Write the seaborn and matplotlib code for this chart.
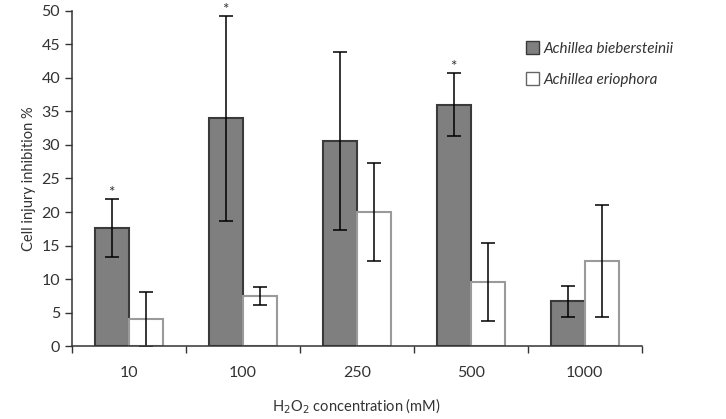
import matplotlib
matplotlib.use("Agg")
import matplotlib.pyplot as plt
import seaborn as sns
import pandas as pd
import numpy as np
from matplotlib.patches import Patch

# Data
concentrations = ["10", "100", "250", "500", "1000"]
species = ["Achillea biebersteinii", "Achillea eriophora"]
bieb_mean = [17.6, 34.0, 30.6, 36.0, 6.7]
bieb_err = [4.3, 15.3, 13.3, 4.7, 2.3]
erio_mean = [4.0, 7.5, 20.0, 9.6, 12.7]
erio_err = [4.1, 1.3, 7.3, 5.8, 8.3]
significant = [True, True, False, True, False]  # asterisks over A. biebersteinii

df = pd.DataFrame({
    "conc": concentrations * 2,
    "species": [species[0]] * 5 + [species[1]] * 5,
    "value": bieb_mean + erio_mean,
    "err": bieb_err + erio_err,
})

sns.set_style("ticks")
plt.rcParams["font.family"] = ["Lato", "DejaVu Sans"]

fig = plt.figure(figsize=(7.26, 4.19), dpi=100)
ax = fig.add_axes([0.099, 0.174, 0.785, 0.80])

sns.barplot(data=df, x="conc", y="value", hue="species", order=concentrations,
            hue_order=species, palette=["#7f7f7f", "#ffffff"], width=0.6,
            errorbar=None, ax=ax, legend=False)

# bar edges: dark for grey bars, light grey for white bars
n = len(concentrations)
for i, p in enumerate(ax.patches[:2 * n]):
    if i < n:
        p.set_edgecolor("#3a3a3a")
    else:
        p.set_edgecolor("#9a9a9a")
    p.set_linewidth(1.5)

# error bars at bar centres
centers = [p.get_x() + p.get_width() / 2 for p in ax.patches[:2 * n]]
ax.errorbar(centers[:n], bieb_mean, yerr=bieb_err, fmt="none", ecolor="black",
            elinewidth=1.1, capsize=5, capthick=1.1)
ax.errorbar(centers[n:], erio_mean, yerr=erio_err, fmt="none", ecolor="black",
            elinewidth=1.1, capsize=5, capthick=1.1)

for i in range(n):
    if significant[i]:
        ax.text(centers[i], bieb_mean[i] + bieb_err[i] + 0.3, "*",
                ha="center", va="baseline", fontsize=11, color="#333333",
                clip_on=False)

ax.set_ylim(0, 50)
ax.set_xlim(-0.5, n - 0.5)
ax.set_yticks(np.arange(0, 51, 5))
ax.tick_params(axis="y", labelsize=11.5, colors="#333333", length=5, width=1)
# x ticks sit at category boundaries, labels at the centres
ax.set_xticks(np.arange(-0.5, n, 1.0), minor=True)
ax.tick_params(axis="x", which="minor", length=5, width=1, color="#333333")
ax.tick_params(axis="x", which="major", length=0, labelsize=11.5, pad=14,
               labelcolor="#333333")
ax.set_xticks(range(n))
ax.set_xticklabels(concentrations)

for s in ["left", "bottom"]:
    ax.spines[s].set_color("#333333")
    ax.spines[s].set_linewidth(1.1)
sns.despine(ax=ax)

ax.set_ylabel("Cell injury inhibition %", fontsize=10.5, color="#333333")
ax.set_xlabel(r"H$_2$O$_2$ concentration (mM)", fontsize=10.5, color="#333333",
              labelpad=12)

handles = [Patch(facecolor="#7f7f7f", edgecolor="#3a3a3a"),
           Patch(facecolor="#ffffff", edgecolor="#666666")]
leg = fig.legend(handles, species, loc="upper left", bbox_to_anchor=(0.705, 0.935),
                 frameon=False, handlelength=0.9, handleheight=0.9,
                 handletextpad=0.3, labelspacing=1.1,
                 prop={"style": "italic", "size": 11})
for t in leg.get_texts():
    t.set_color("#333333")

fig.savefig("out.png", dpi=100)
